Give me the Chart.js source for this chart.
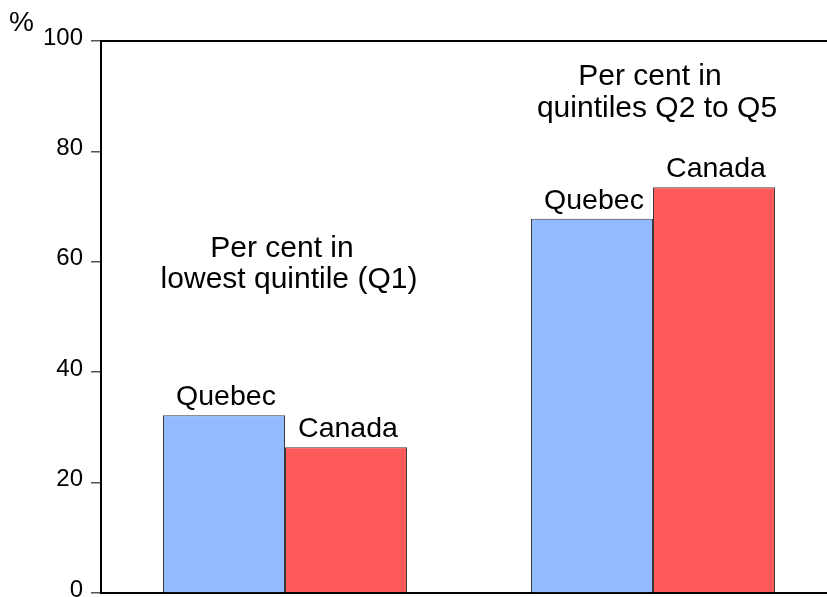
<!DOCTYPE html>
<html>
<head>
<meta charset="utf-8">
<script src="https://cdn.jsdelivr.net/npm/chart.js@4.4.1/dist/chart.umd.min.js"></script>
<style>
  html, body { margin: 0; padding: 0; overflow: hidden; background: #fff; }
  #wrap { width: 837px; height: 597px; }
</style>
</head>
<body>
<div id="wrap"><canvas id="myChart"></canvas></div>
<script>
// categories and values
const groups = ['lowest quintile (Q1)', 'quintiles Q2 to Q5'];
const groupTitles = [['Per cent in', 'lowest quintile (Q1)'], ['Per cent in', 'quintiles Q2 to Q5']];
const quebec = [32.2, 67.8];
const canada = [26.4, 73.5];
const yTicks = [0, 20, 40, 60, 80, 100];

const FONT = '"Liberation Sans", Arial, sans-serif';

// labels above bars + group titles + frame
const annotate = {
  id: 'annotate',
  afterDatasetsDraw(chart) {
    const c = chart.ctx;
    const a = chart.chartArea;
    const y = chart.scales.y;
    c.save();
    // top frame line
    c.strokeStyle = '#000';
    c.lineWidth = 2;
    c.beginPath();
    c.moveTo(a.left, a.top);
    c.lineTo(a.right, a.top);
    c.stroke();

    c.fillStyle = '#000';
    c.font = '28.5px ' + FONT;
    c.textAlign = 'center';
    c.textBaseline = 'alphabetic';
    chart.data.datasets.forEach((ds, i) => {
      chart.getDatasetMeta(i).data.forEach(bar => {
        c.fillText(ds.label, bar.x + 2, bar.y - 10);
      });
    });

    // group titles, baselines anchored in value space
    const titleAt = [[60.8, 55.2], [92.0, 86.2]];
    const m0 = chart.getDatasetMeta(0).data, m1 = chart.getDatasetMeta(1).data;
    c.font = '30px ' + FONT;
    groupTitles.forEach((lines, g) => {
      const cx = (m0[g].x + m1[g].x) / 2 + 4;
      lines.forEach((t, k) => c.fillText(t, cx - (k === 0 ? 7 : 0), y.getPixelForValue(titleAt[g][k])));
    });

    // % unit
    c.font = '28px ' + FONT;
    c.textAlign = 'left';
    c.fillText('%', 9, 31);
    c.restore();
  }
};

const ctx = document.getElementById('myChart').getContext('2d');
const myChart = new Chart(ctx, {
  type: 'bar',
  data: {
    labels: groups,
    datasets: [{
      label: 'Quebec',
      data: quebec,
      backgroundColor: '#94bbff',
      borderColor: '#3a3a3a',
      borderWidth: 1,
      borderSkipped: 'bottom'
    }, {
      label: 'Canada',
      data: canada,
      backgroundColor: '#ff5a5a',
      borderColor: '#3a3a3a',
      borderWidth: 1,
      borderSkipped: 'bottom'
    }]
  },
  options: {
    responsive: true,
    maintainAspectRatio: false,
    animation: false,
    layout: { padding: { top: 41, bottom: 4, left: 0, right: 0 } },
    datasets: { bar: { categoryPercentage: 0.663, barPercentage: 1 } },
    plugins: {
      legend: { display: false },
      tooltip: { enabled: false }
    },
    scales: {
      x: {
        ticks: { display: false },
        grid: { display: false },
        border: { display: true, color: '#000', width: 2 },
        afterFit(s) { s.height = 0; }
      },
      y: {
        min: 0,
        max: 100,
        afterBuildTicks(s) { s.ticks = yTicks.map(v => ({ value: v })); },
        ticks: {
          color: '#000',
          font: { family: FONT, size: 24, lineHeight: 0.25 },
          padding: 8,
          // empty second line nudges each label up a few px, like the original
          callback: v => [String(v), '']
        },
        grid: { drawOnChartArea: false, drawTicks: true, tickLength: 10, color: '#555', lineWidth: 1.5 },
        border: { display: true, color: '#000', width: 2 },
        afterFit(s) { s.width = 101; s.paddingTop = 0; s.paddingBottom = 0; }
      }
    }
  },
  plugins: [annotate]
});
</script>
</body>
</html>
